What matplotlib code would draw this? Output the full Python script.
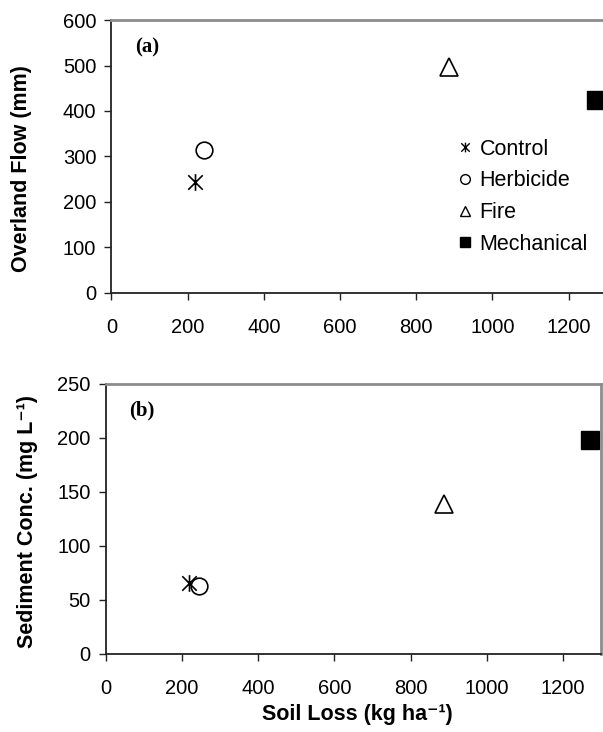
import numpy as np
import matplotlib.pyplot as plt
from matplotlib.path import Path
from matplotlib.lines import Line2D

plt.rcParams['font.family'] = ['Liberation Sans', 'DejaVu Sans']

# data
treatments = ['Control', 'Herbicide', 'Fire', 'Mechanical']
soil_loss = [218, 244, 887, 1272]
overland_flow = [244, 314, 497, 425]
sediment_conc = [66, 63, 139, 198]

# Excel-like star marker: X with a vertical bar
star = Path([(-1, -1), (1, 1), (-1, 1), (1, -1), (0, -1.15), (0, 1.15)],
            [Path.MOVETO, Path.LINETO, Path.MOVETO, Path.LINETO, Path.MOVETO, Path.LINETO])

styles = {
    'Control': dict(marker=star, ms=12, mfc='none', mec='black', mew=1.2),
    'Herbicide': dict(marker='o', ms=12, mfc='none', mec='black', mew=1.2),
    'Fire': dict(marker='^', ms=13, mfc='none', mec='black', mew=1.2),
    'Mechanical': dict(marker='s', ms=13, mfc='black', mec='black', mew=1.0),
}

fig = plt.figure(figsize=(6.03, 7.32), dpi=100)
ax1 = fig.add_axes([0.1849, 0.6001, 0.8214, 0.3725])
ax2 = fig.add_axes([0.1758, 0.1066, 0.8209, 0.3689])


def style_axes(ax, ymax, ystep):
    ax.set_xlim(0, 1300)
    ax.set_ylim(0, ymax)
    ax.set_xticks(np.arange(0, 1201, 200))
    ax.set_yticks(np.arange(0, ymax + 1, ystep))
    for side in ['left', 'bottom']:
        ax.spines[side].set_color('#222222')
        ax.spines[side].set_linewidth(1.3)
    for side in ['top', 'right']:
        ax.spines[side].set_color('#8c8c8c')
        ax.spines[side].set_linewidth(2.0)
    ax.tick_params(direction='out', length=5, width=1.0, color='#222222',
                   labelsize=14.5)
    ax.tick_params(axis='x', pad=13)
    ax.tick_params(axis='y', pad=6)


for ax, yvals in [(ax1, overland_flow), (ax2, sediment_conc)]:
    for name, x, y in zip(treatments, soil_loss, yvals):
        ax.plot([x], [y], linestyle='none', **styles[name])

style_axes(ax1, 600, 100)
style_axes(ax2, 250, 50)

ax1.text(0.047, 0.9, '(a)', transform=ax1.transAxes, fontsize=15,
         fontweight='bold', family='Liberation Serif', va='center')
ax2.text(0.047, 0.9, '(b)', transform=ax2.transAxes, fontsize=15,
         fontweight='bold', family='Liberation Serif', va='center')

fig.text(0.035, 0.77, 'Overland Flow (mm)', rotation=90, fontsize=15.5,
         fontweight='bold', ha='center', va='center')
fig.text(0.045, 0.287, 'Sediment Conc. (mg L\u207b\u00b9)', rotation=90,
         fontsize=15.5, fontweight='bold', ha='center', va='center')
fig.text(0.592, 0.01, 'Soil Loss (kg ha\u207b\u00b9)', fontsize=15.5,
         fontweight='bold', ha='center', va='bottom')

handles = []
for name in treatments:
    st = dict(styles[name])
    st['ms'] = 7
    st['mew'] = 1.0
    handles.append(Line2D([], [], linestyle='none', **st))
ax1.legend(handles, treatments, loc='upper left', bbox_to_anchor=(0.7, 0.565),
           frameon=False, fontsize=15.5, handlelength=0.6, handletextpad=0.4,
           labelspacing=0.5, borderaxespad=0, borderpad=0)

fig.savefig('out.png', dpi=100)
